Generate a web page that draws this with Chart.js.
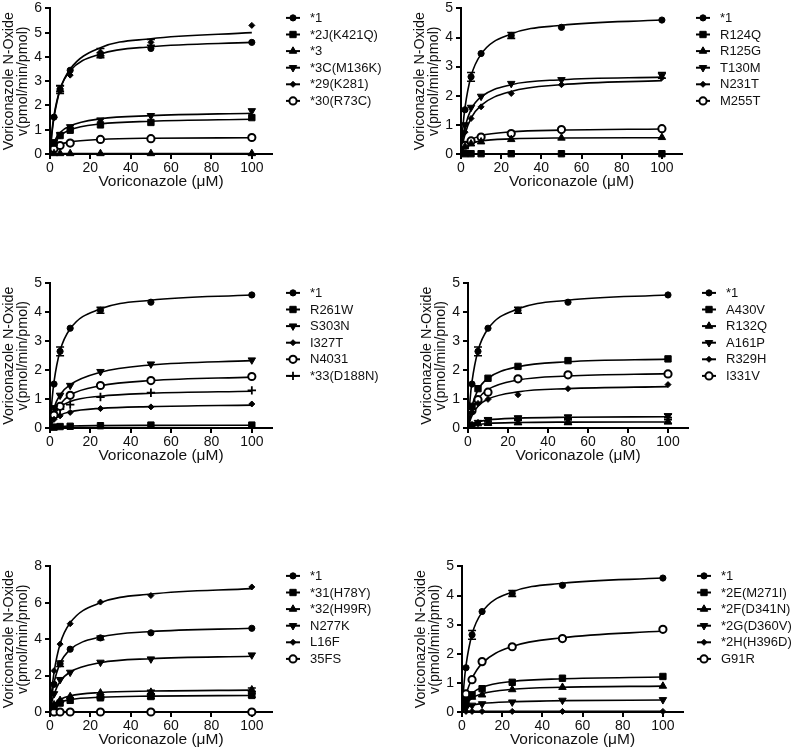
<!DOCTYPE html>
<html>
<head>
<meta charset="utf-8">
<script src="https://cdn.jsdelivr.net/npm/chart.js@4.4.1/dist/chart.umd.min.js"></script>
<style>
  html, body { margin: 0; padding: 0; background: #fff; }
  body { position: relative; width: 793px; height: 747px; overflow: hidden; }
  canvas { position: absolute; }
</style>
</head>
<body>
<canvas id="p1"></canvas>
<canvas id="p2"></canvas>
<canvas id="p3"></canvas>
<canvas id="p4"></canvas>
<canvas id="p5"></canvas>
<canvas id="p6"></canvas>
<script>
// concentrations (uM) of measured points, and x values where the fitted curve was read
const conc = [2, 5, 10, 25, 50, 100];
const fitConc = [0, 1, 2, 5, 10, 25, 50, 100];
const xTicks = [0, 20, 40, 60, 80, 100];

// *1 (wild type) - same in every panel
const wtPts = [1.52, 2.65, 3.45, 4.07, 4.35, 4.6];
const wtFit = [0, 0.96, 1.6, 2.67, 3.43, 4.12, 4.42, 4.6];
const wtErr = [0, 0.15, 0, 0.1, 0, 0];

// panel 1
const p1Names = ["*1", "*2J(K421Q)", "*3", "*3C(M136K)", "*29(K281)", "*30(R73C)"];
const k421qPts = [0.45, 0.76, 0.98, 1.2, 1.3, 1.5];
const k421qFit = [0, 0.25, 0.43, 0.75, 1.0, 1.24, 1.35, 1.43];
const star3Pts = [0.02, 0.02, 0.02, 0.02, 0.02, 0.02];
const star3Fit = [0, 0.01, 0.01, 0.02, 0.02, 0.02, 0.02, 0.02];
const m136kPts = [0.5, 0.8, 1.12, 1.4, 1.58, 1.78];
const m136kFit = [0, 0.29, 0.5, 0.88, 1.16, 1.45, 1.58, 1.68];
const k281Pts = [1.5, 2.7, 3.25, 4.2, 4.6, 5.3];
const k281Fit = [0, 0.88, 1.51, 2.65, 3.5, 4.38, 4.75, 5.0];
const k281Err = [0, 0.12, 0, 0.15, 0.12, 0];
const r73cPts = [0.22, 0.35, 0.45, 0.6, 0.63, 0.68];
const r73cFit = [0, 0.14, 0.23, 0.39, 0.5, 0.6, 0.65, 0.67];

// panel 2
const p2Names = ["*1", "R124Q", "R125G", "T130M", "N231T", "M255T"];
const r124qPts = [0.01, 0.01, 0.01, 0.01, 0.01, 0.01];
const r124qFit = [0, 0.005, 0.005, 0.01, 0.01, 0.01, 0.01, 0.01];
const r125gPts = [0.25, 0.35, 0.42, 0.5, 0.55, 0.57];
const r125gFit = [0, 0.15, 0.23, 0.36, 0.45, 0.52, 0.55, 0.56];
const t130mPts = [1.0, 1.6, 1.98, 2.42, 2.55, 2.7];
const t130mFit = [0, 0.55, 0.92, 1.53, 1.96, 2.38, 2.55, 2.64];
const t130mErr = [0, 0, 0, 0, 0, 0.1];
const n231tPts = [0.75, 1.22, 1.62, 2.08, 2.38, 2.62];
const n231tFit = [0, 0.39, 0.68, 1.23, 1.67, 2.15, 2.38, 2.52];
const m255tPts = [0.3, 0.45, 0.58, 0.7, 0.84, 0.87];
const m255tFit = [0, 0.18, 0.3, 0.49, 0.63, 0.76, 0.82, 0.86];

// panel 3
const p3Names = ["*1", "R261W", "S303N", "I327T", "N4031", "*33(D188N)"];
const r261wPts = [0.03, 0.05, 0.06, 0.08, 0.1, 0.1];
const r261wFit = [0, 0.017, 0.03, 0.05, 0.067, 0.083, 0.09, 0.095];
const s303nPts = [0.7, 1.13, 1.47, 1.95, 2.21, 2.35];
const s303nFit = [0, 0.4, 0.7, 1.15, 1.5, 1.93, 2.18, 2.33];
const i327tPts = [0.3, 0.42, 0.54, 0.67, 0.73, 0.83];
const i327tFit = [0, 0.16, 0.27, 0.44, 0.56, 0.68, 0.74, 0.79];
const n4031Pts = [0.45, 0.75, 1.13, 1.47, 1.64, 1.78];
const n4031Fit = [0, 0.3, 0.5, 0.82, 1.14, 1.46, 1.64, 1.76];
const d188nPts = [0.5, 0.65, 0.81, 1.07, 1.22, 1.3];
const d188nFit = [0, 0.26, 0.44, 0.72, 0.92, 1.1, 1.2, 1.27];

// panel 4
const p4Names = ["*1", "A430V", "R132Q", "A161P", "R329H", "I331V"];
const a430vPts = [0.75, 1.36, 1.72, 2.13, 2.33, 2.39];
const a430vFit = [0, 0.45, 0.77, 1.32, 1.72, 2.12, 2.29, 2.38];
const r132qPts = [0.08, 0.15, 0.16, 0.19, 0.2, 0.22];
const r132qFit = [0, 0.044, 0.073, 0.12, 0.157, 0.19, 0.204, 0.21];
const r132qErr = [0, 0, 0.05, 0.07, 0.08, 0.07];
const a161pPts = [0.12, 0.19, 0.29, 0.35, 0.38, 0.42];
const a161pFit = [0, 0.07, 0.12, 0.21, 0.28, 0.34, 0.37, 0.39];
const a161pErr = [0, 0, 0.05, 0.05, 0.05, 0.06];
const r329hPts = [0.55, 0.85, 0.99, 1.15, 1.36, 1.5];
const r329hFit = [0, 0.25, 0.43, 0.75, 1.0, 1.25, 1.36, 1.43];
const i331vPts = [0.6, 0.98, 1.24, 1.7, 1.84, 1.87];
const i331vFit = [0, 0.33, 0.57, 1.0, 1.33, 1.66, 1.8, 1.88];

// panel 5
const p5Names = ["*1", "*31(H78Y)", "*32(H99R)", "N277K", "L16F", "35FS"];
const h78yPts = [0.3, 0.49, 0.64, 0.78, 0.85, 0.91];
const h78yFit = [0, 0.19, 0.32, 0.53, 0.68, 0.81, 0.87, 0.91];
const h78yErr = [0, 0, 0, 0.05, 0.1, 0.1];
const h99rPts = [0.4, 0.64, 0.85, 1.05, 1.09, 1.22];
const h99rFit = [0, 0.25, 0.42, 0.69, 0.89, 1.07, 1.15, 1.2];
const h99rErr = [0, 0, 0, 0, 0.1, 0.1];
const n277kPts = [1.0, 1.78, 2.18, 2.73, 2.91, 3.13];
const n277kFit = [0, 0.58, 0.98, 1.68, 2.2, 2.71, 2.93, 3.06];
const l16fPts = [2.27, 3.73, 4.85, 6.04, 6.4, 6.87];
const l16fFit = [0, 1.29, 2.18, 3.74, 4.9, 6.0, 6.48, 6.78];
const fs35Pts = [0, 0, 0, 0, 0, 0];
const fs35Fit = [0, 0, 0, 0, 0, 0, 0, 0];

// panel 6
const p6Names = ["*1", "*2E(M271I)", "*2F(D341N)", "*2G(D360V)", "*2H(H396D)", "G91R"];
const m271iPts = [0.4, 0.59, 0.8, 1.02, 1.16, 1.22];
const m271iFit = [0, 0.21, 0.36, 0.64, 0.85, 1.05, 1.14, 1.2];
const d341nPts = [0.3, 0.51, 0.59, 0.77, 0.85, 0.89];
const d341nFit = [0, 0.16, 0.27, 0.48, 0.63, 0.78, 0.85, 0.89];
const d360vPts = [0.15, 0.23, 0.28, 0.34, 0.4, 0.42];
const d360vFit = [0, 0.084, 0.14, 0.23, 0.29, 0.35, 0.39, 0.41];
const h396dPts = [0.02, 0.02, 0.02, 0.02, 0.02, 0.02];
const h396dFit = [0, 0.01, 0.015, 0.02, 0.02, 0.02, 0.02, 0.02];
const g91rPts = [0.62, 1.11, 1.73, 2.24, 2.52, 2.84];
const g91rFit = [0, 0.33, 0.6, 1.15, 1.67, 2.25, 2.55, 2.78];

Chart.defaults.font.family = "'Liberation Sans', Arial, Helvetica, sans-serif";
Chart.defaults.color = "#111";

// marker looks (GraphPad style)
const markers = {
  dot:     { pointStyle: "circle",   radius: 3.1, rotation: 0,   fill: "#000", bw: 1 },
  square:  { pointStyle: "rect",     radius: 4.5, rotation: 0,   fill: "#000", bw: 1 },
  tri:     { pointStyle: "triangle", radius: 4.3, rotation: 0,   fill: "#000", bw: 1 },
  triDown: { pointStyle: "triangle", radius: 4.3, rotation: 180, fill: "#000", bw: 1 },
  diamond: { pointStyle: "rectRot",  radius: 3.0, rotation: 0,   fill: "#000", bw: 1 },
  ring:    { pointStyle: "circle",   radius: 3.6, rotation: 0,   fill: "#fff", bw: 2 },
  cross:   { pointStyle: "cross",    radius: 4.2, rotation: 0,   fill: "#000", bw: 1.8 },
};

function drawMark(ctx, m, x, y) {
  const r = m.radius;
  ctx.save();
  ctx.translate(x, y);
  ctx.rotate(m.rotation * Math.PI / 180);
  ctx.fillStyle = m.fill;
  ctx.strokeStyle = "#000";
  ctx.lineWidth = m.bw;
  ctx.beginPath();
  if (m.pointStyle == "circle") {
    ctx.arc(0, 0, r, 0, Math.PI * 2);
  } else if (m.pointStyle == "rect") {
    const s = r * Math.SQRT1_2;
    ctx.rect(-s, -s, 2 * s, 2 * s);
  } else if (m.pointStyle == "triangle") {
    ctx.moveTo(0, -r);
    ctx.lineTo(r * Math.sin(2 * Math.PI / 3), -r * Math.cos(2 * Math.PI / 3));
    ctx.lineTo(r * Math.sin(4 * Math.PI / 3), -r * Math.cos(4 * Math.PI / 3));
    ctx.closePath();
  } else if (m.pointStyle == "rectRot") {
    ctx.moveTo(0, -r); ctx.lineTo(r, 0); ctx.lineTo(0, r); ctx.lineTo(-r, 0);
    ctx.closePath();
  } else if (m.pointStyle == "cross") {
    ctx.moveTo(0, -r); ctx.lineTo(0, r);
    ctx.moveTo(-r, 0); ctx.lineTo(r, 0);
  }
  if (m.pointStyle != "cross") ctx.fill();
  ctx.stroke();
  ctx.restore();
}

// error bars (mean +/- SD) read from ds.errs
const errorBars = {
  id: "errorBars",
  afterDatasetsDraw(chart) {
    const ctx = chart.ctx;
    const ys = chart.scales.y;
    chart.data.datasets.forEach((ds, i) => {
      if (!ds.errs) return;
      const meta = chart.getDatasetMeta(i);
      ds.errs.forEach((e, j) => {
        if (!e) return;
        const px = meta.data[j].x;
        const v = ds.data[j].y;
        const y1 = ys.getPixelForValue(v + e);
        const y2 = ys.getPixelForValue(v - e);
        ctx.save();
        ctx.strokeStyle = "#000";
        ctx.lineWidth = 1.6;
        ctx.beginPath();
        ctx.moveTo(px, y1); ctx.lineTo(px, y2);
        ctx.moveTo(px - 4, y1); ctx.lineTo(px + 4, y1);
        ctx.moveTo(px - 4, y2); ctx.lineTo(px + 4, y2);
        ctx.stroke();
        ctx.restore();
      });
    });
  },
};

// legend at the right: short line + marker + name
const sideLegend = {
  id: "sideLegend",
  afterDraw(chart) {
    const ctx = chart.ctx;
    const a = chart.chartArea;
    const items = chart.data.datasets.filter(d => d.legendName);
    items.forEach((ds, i) => {
      const y = a.top + 9.5 + i * 16.6;
      const x0 = a.right + 14;
      ctx.save();
      ctx.strokeStyle = "#000";
      ctx.lineWidth = 2;
      ctx.beginPath();
      ctx.moveTo(x0, y); ctx.lineTo(x0 + 14, y);
      ctx.stroke();
      drawMark(ctx, ds.mark, x0 + 7, y);
      ctx.fillStyle = "#111";
      ctx.font = "13px 'Liberation Sans', Arial, sans-serif";
      ctx.textBaseline = "middle";
      ctx.fillText(ds.legendName, a.right + 38, y + 0.5);
      ctx.restore();
    });
  },
};

function makePanel(id, box, names, pts, fits, errs, marks, yMax, yStep) {
  const cv = document.getElementById(id);
  cv.width = box.w; cv.height = box.h;
  cv.style.left = box.x + "px"; cv.style.top = box.y + "px";

  const datasets = [];
  names.forEach((name, i) => {
    const m = markers[marks[i]];
    datasets.push({
      legendName: name,
      mark: m,
      data: conc.map((x, j) => ({ x: x, y: pts[i][j] })),
      errs: errs[i],
      showLine: false,
      pointStyle: m.pointStyle,
      pointRadius: m.radius,
      pointRotation: m.rotation,
      pointBackgroundColor: m.fill,
      pointBorderColor: "#000",
      pointBorderWidth: m.bw,
      clip: false,
      order: 0,
    });
    datasets.push({
      data: fitConc.map((x, j) => ({ x: x, y: fits[i][j] })),
      showLine: true,
      cubicInterpolationMode: "monotone",
      borderColor: "#000",
      borderWidth: 1.6,
      pointRadius: 0,
      clip: false,
      order: 1,
    });
  });

  new Chart(cv, {
    type: "scatter",
    data: { datasets: datasets },
    options: {
      responsive: false,
      animation: false,
      layout: { padding: box.pad },
      plugins: { legend: { display: false }, tooltip: { enabled: false } },
      scales: {
        x: {
          type: "linear",
          min: 0,
          max: 110,
          afterBuildTicks: (s) => { s.ticks = xTicks.map(v => ({ value: v })); },
          afterFit: (s) => { s.height = 40; },
          border: { color: "#000", width: 2 },
          grid: { drawOnChartArea: false, drawTicks: true, tickLength: 5, color: "#000", lineWidth: 2 },
          ticks: { font: { size: 14 }, color: "#111", padding: 1, maxRotation: 0 },
          title: {
            display: true,
            text: "Voriconazole (μM)",
            font: { size: 15.5 },
            color: "#111",
            padding: { top: 0, bottom: 3 },
          },
        },
        y: {
          min: 0,
          max: yMax,
          afterFit: (s) => { s.width = 50; },
          border: { color: "#000", width: 2 },
          grid: { drawOnChartArea: false, drawTicks: true, tickLength: 5, color: "#000", lineWidth: 2 },
          ticks: { stepSize: yStep, font: { size: 14 }, color: "#111", padding: 3 },
          title: {
            display: true,
            text: ["Voriconazole N-Oxide", "v(pmol/min/pmol)"],
            font: { size: 14.3, lineHeight: 0.96 },
            color: "#111",
            padding: { top: 2, bottom: 0 },
          },
        },
      },
    },
    plugins: [errorBars, sideLegend],
  });
}

const none = null;
makePanel("p1", { x: 0, y: -3, w: 396, h: 197, pad: { left: 0, right: 124, top: 10, bottom: 0 } },
  p1Names,
  [wtPts, k421qPts, star3Pts, m136kPts, k281Pts, r73cPts],
  [wtFit, k421qFit, star3Fit, m136kFit, k281Fit, r73cFit],
  [wtErr, none, none, none, k281Err, none],
  ["dot", "square", "tri", "triDown", "diamond", "ring"], 6, 1);

makePanel("p2", { x: 396, y: -3, w: 397, h: 197, pad: { left: 15, right: 111, top: 10, bottom: 0 } },
  p2Names,
  [wtPts, r124qPts, r125gPts, t130mPts, n231tPts, m255tPts],
  [wtFit, r124qFit, r125gFit, t130mFit, n231tFit, m255tFit],
  [wtErr, none, none, t130mErr, none, none],
  ["dot", "square", "tri", "triDown", "diamond", "ring"], 5, 1);

makePanel("p3", { x: 0, y: 272, w: 396, h: 196, pad: { left: 0, right: 124, top: 10, bottom: 0 } },
  p3Names,
  [wtPts, r261wPts, s303nPts, i327tPts, n4031Pts, d188nPts],
  [wtFit, r261wFit, s303nFit, i327tFit, n4031Fit, d188nFit],
  [wtErr, none, none, none, none, none],
  ["dot", "square", "triDown", "diamond", "ring", "cross"], 5, 1);

makePanel("p4", { x: 396, y: 272, w: 397, h: 196, pad: { left: 22, right: 105, top: 10, bottom: 0 } },
  p4Names,
  [wtPts, a430vPts, r132qPts, a161pPts, r329hPts, i331vPts],
  [wtFit, a430vFit, r132qFit, a161pFit, r329hFit, i331vFit],
  [wtErr, none, r132qErr, a161pErr, none, none],
  ["dot", "square", "tri", "triDown", "diamond", "ring"], 5, 1);

makePanel("p5", { x: 0, y: 555, w: 396, h: 197, pad: { left: 0, right: 124, top: 10, bottom: 0 } },
  p5Names,
  [wtPts, h78yPts, h99rPts, n277kPts, l16fPts, fs35Pts],
  [wtFit, h78yFit, h99rFit, n277kFit, l16fFit, fs35Fit],
  [wtErr, h78yErr, h99rErr, none, none, none],
  ["dot", "square", "tri", "triDown", "diamond", "ring"], 8, 2);

makePanel("p6", { x: 396, y: 555, w: 397, h: 197, pad: { left: 16, right: 110, top: 10, bottom: 0 } },
  p6Names,
  [wtPts, m271iPts, d341nPts, d360vPts, h396dPts, g91rPts],
  [wtFit, m271iFit, d341nFit, d360vFit, h396dFit, g91rFit],
  [wtErr, none, none, none, none, none],
  ["dot", "square", "tri", "triDown", "diamond", "ring"], 5, 1);
</script>
</body>
</html>
